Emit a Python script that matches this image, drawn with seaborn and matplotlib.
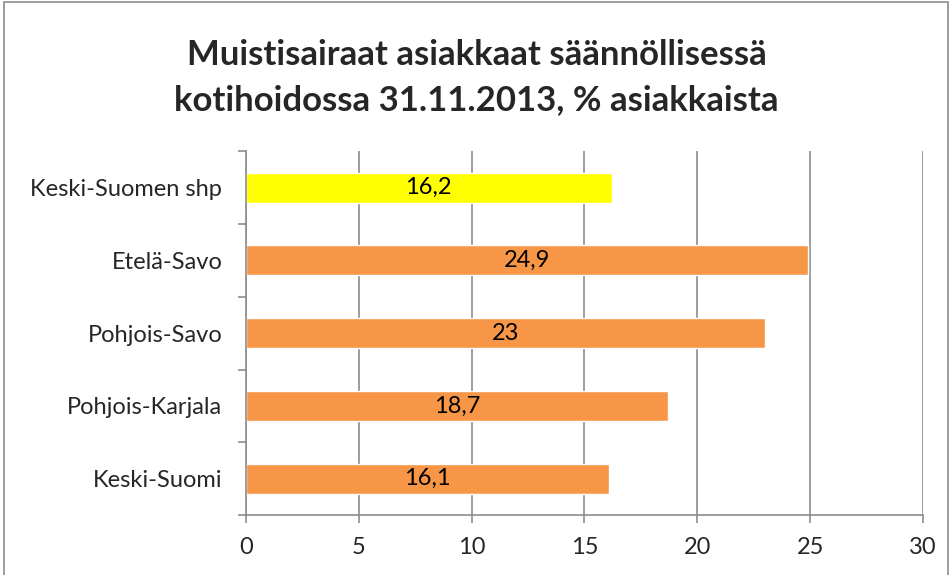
import numpy as np
import pandas as pd
import matplotlib
matplotlib.use('Agg')
import matplotlib.pyplot as plt
import seaborn as sns
from matplotlib.patches import Rectangle

# chart data, top to bottom as in the reference
regions = ['Keski-Suomen shp', 'Etelä-Savo', 'Pohjois-Savo',
           'Pohjois-Karjala', 'Keski-Suomi']
shares = [16.2, 24.9, 23.0, 18.7, 16.1]
value_labels = ['16,2', '24,9', '23', '18,7', '16,1']
bar_colors = ['#FFFF00', '#F79646', '#F79646', '#F79646', '#F79646']
x_ticks = [0, 5, 10, 15, 20, 25, 30]

sns.set_theme(style='white')
plt.rcParams['font.family'] = ['Lato', 'DejaVu Sans']

df = pd.DataFrame({'region': regions, 'share': shares})

fig = plt.figure(figsize=(9.53, 5.75), dpi=100)
ax = fig.add_axes([0.258, 0.1043, 0.7105, 0.6327])

sns.barplot(data=df, x='share', y='region', hue='region', order=regions,
            palette=bar_colors, orient='h', width=0.41, legend=False,
            saturation=1, ax=ax)

ax.set_xlim(0, 30)
ax.set_ylim(len(regions) - 0.5, -0.5)
ax.set_xticks(x_ticks)
ax.set_xticklabels([str(t) for t in x_ticks], fontsize=17)
ax.xaxis.grid(True, color='#8c8c8c', linewidth=1.2)
ax.set_axisbelow(True)

# category boundary ticks, labels on the centres
ax.set_yticks(np.arange(len(regions) + 1) - 0.5)
ax.set_yticklabels([])
ax.set_yticks(np.arange(len(regions)), minor=True)
ax.set_yticklabels(regions, minor=True, fontsize=17)
ax.tick_params(axis='y', which='major', direction='out', length=6,
               width=1.2, color='#8c8c8c', left=True)
ax.tick_params(axis='y', which='minor', length=0, pad=17)
ax.tick_params(axis='x', direction='out', length=6, width=1.2,
               color='#8c8c8c', bottom=True, pad=10)

for side in ['top', 'right']:
    ax.spines[side].set_visible(False)
for side in ['left', 'bottom']:
    ax.spines[side].set_color('#8c8c8c')
    ax.spines[side].set_linewidth(1.2)

ax.set_xlabel('')
ax.set_ylabel('')

for i, (val, lab) in enumerate(zip(shares, value_labels)):
    ax.text(val / 2, i, lab, ha='center', va='center', fontsize=17,
            color='black')

fig.text(0.5, 0.866, 'Muistisairaat asiakkaat säännöllisessä\n'
         'kotihoidossa 31.11.2013, % asiakkaista',
         ha='center', va='center', fontsize=25, fontweight='bold',
         linespacing=1.5)

# outer chart border
fig.patches.append(Rectangle((4 / 953, -0.01), 944 / 953, 1.0065,
                             transform=fig.transFigure, fill=False,
                             edgecolor='#8c8c8c', linewidth=1.2))

plt.savefig('out.png', dpi=100)
